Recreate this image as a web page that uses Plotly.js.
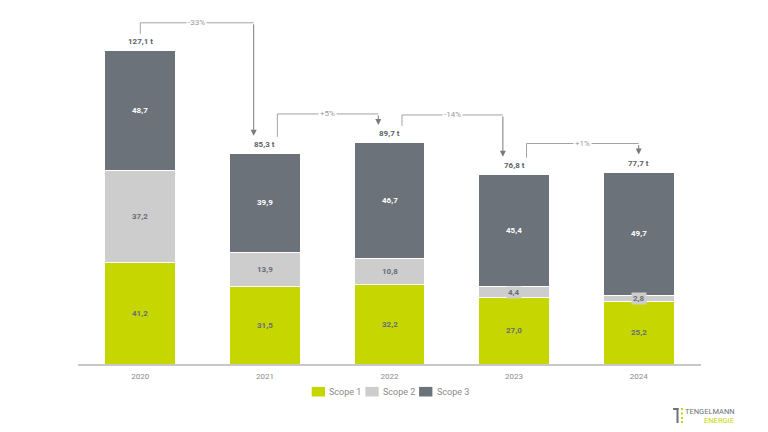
<!DOCTYPE html>
<html>
<head>
<meta charset="utf-8">
<script src="https://cdn.plot.ly/plotly-3.0.1.min.js"></script>
<style>html,body{margin:0;padding:0;background:#fff;}#chart{width:768px;height:432px;}</style>
</head>
<body>
<div id="chart"></div>
<script>
const years = ['2020', '2021', '2022', '2023', '2024'];
const scope1 = [41.2, 31.5, 32.2, 27.0, 25.2];
const scope2 = [37.2, 13.9, 10.8, 4.4, 2.8];
const scope3 = [48.7, 39.9, 46.7, 45.4, 49.7];
const totals = [127.1, 85.3, 89.7, 76.8, 77.7];
const changes = ['-33%', '+5%', '-14%', '+1%'];
const seriesNames = ['Scope 1', 'Scope 2', 'Scope 3'];

const C1 = '#c5d600', C2 = '#cdcdcd', C3 = '#6b7279';
const colors = [C1, C2, C3];
const LBL = '#676e75', LINE = '#a3a3a3';
const FONT = 'Roboto, "Liberation Sans", sans-serif';

const marginT = 19, marginB = 68, marginL = 78, marginR = 67, W = 768, H = 432, yMax = 140;
const k = (H - marginT - marginB) / yMax; // px per unit
const px = p => p / k;
const fmt = v => v.toFixed(1).replace('.', ',');
const paperX = p => (p - marginL) / (W - marginL - marginR);
const paperY = p => (H - marginB - p) / (H - marginT - marginB);

const mk = (name, vals, color) => ({
  type: 'bar', name: name, x: years, y: vals,
  marker: { color: color, line: { color: '#ffffff', width: 1 } },
  hoverinfo: 'skip'
});
const data = [mk(seriesNames[0], scope1, C1), mk(seriesNames[1], scope2, C2), mk(seriesNames[2], scope3, C3)];

const annotations = [];
const shapes = [];
years.forEach((yr, i) => {
  annotations.push({ x: i, y: scope1[i] / 2, text: '<b>' + fmt(scope1[i]) + '</b>', showarrow: false,
    font: { family: FONT, size: 8, color: LBL } });
  annotations.push({ x: i, y: scope1[i] + scope2[i] / 2, text: '<b>' + fmt(scope2[i]) + '</b>', showarrow: false,
    bgcolor: C2, borderpad: 1, font: { family: FONT, size: 8, color: LBL } });
  annotations.push({ x: i, y: scope1[i] + scope2[i] + scope3[i] / 2, text: '<b>' + fmt(scope3[i]) + '</b>', showarrow: false,
    font: { family: FONT, size: 8, color: '#ffffff' } });
  annotations.push({ x: i, y: totals[i], yanchor: 'bottom', yshift: 3, text: '<b>' + fmt(totals[i]) + ' t</b>', showarrow: false,
    font: { family: FONT, size: 8, color: '#5c636a' } });
});

changes.forEach((c, i) => {
  const xs = i + (i === 0 ? 0 : 0.1);
  const xe = (i + 1) + (i === changes.length - 1 ? 0 : -0.09);
  const ys = totals[i] + px(17);
  const ye = totals[i + 1] + px(18);
  const yt = Math.max(ys, ye) + px(11);
  shapes.push({ type: 'line', xref: 'x', yref: 'y', x0: xs, x1: xs, y0: ys, y1: yt, line: { color: LINE, width: 1 } });
  shapes.push({ type: 'line', xref: 'x', yref: 'y', x0: xs, x1: xe, y0: yt, y1: yt, line: { color: LINE, width: 1 } });
  annotations.push({ x: xe, y: ye, ax: xe, ay: yt, axref: 'x', ayref: 'y', text: '', showarrow: true,
    arrowhead: 2, arrowsize: 1.2, arrowwidth: 1, arrowcolor: '#7a7a7a', standoff: 0 });
  annotations.push({ x: (xs + xe) / 2, y: yt, text: c, showarrow: false, bgcolor: '#ffffff', borderpad: 1,
    font: { family: FONT, size: 8, color: '#9a9a9a' } });
});

// legend (drawn as swatches + text)
const legX0 = 311.7, legStep = 53.7, legY = 391.7;
seriesNames.forEach((n, j) => {
  const sx = legX0 + j * legStep;
  shapes.push({ type: 'rect', xref: 'paper', yref: 'paper', x0: paperX(sx), x1: paperX(sx + 13.3),
    y0: paperY(legY + 4.8), y1: paperY(legY - 4.8), fillcolor: colors[j], line: { width: 0 } });
  annotations.push({ xref: 'paper', yref: 'paper', x: paperX(sx + 15.5), y: paperY(legY), xanchor: 'left', yanchor: 'middle',
    text: n, showarrow: false, font: { family: FONT, size: 9, color: '#8a8a8a' } });
});

// logo
annotations.push({ xref: 'paper', yref: 'paper', x: paperX(737), y: paperY(411), xanchor: 'right', yanchor: 'middle',
  text: 'TENGELMANN', showarrow: false, font: { family: FONT, size: 7.5, color: '#6b7279' } });
annotations.push({ xref: 'paper', yref: 'paper', x: paperX(736), y: paperY(420), xanchor: 'right', yanchor: 'middle',
  text: 'ENERGIE', showarrow: false, font: { family: FONT, size: 7.5, color: '#c5d600' } });
shapes.push({ type: 'rect', xref: 'paper', yref: 'paper', x0: paperX(676.5), x1: paperX(678.5), y0: paperY(423), y1: paperY(408), fillcolor: '#6b7279', line: { width: 0 } });
shapes.push({ type: 'rect', xref: 'paper', yref: 'paper', x0: paperX(673), x1: paperX(678.5), y0: paperY(410), y1: paperY(408), fillcolor: '#6b7279', line: { width: 0 } });
[408, 412.5, 417, 421].forEach(yy => {
  shapes.push({ type: 'rect', xref: 'paper', yref: 'paper', x0: paperX(681), x1: paperX(683), y0: paperY(yy + 2), y1: paperY(yy), fillcolor: '#c5d600', line: { width: 0 } });
});

const layout = {
  width: W, height: H,
  margin: { l: marginL, r: marginR, t: marginT, b: marginB },
  paper_bgcolor: '#ffffff', plot_bgcolor: '#ffffff',
  barmode: 'stack', bargap: 0.433,
  font: { family: FONT, size: 8, color: '#8a8a8a' },
  xaxis: { type: 'category', showline: true, linecolor: '#c8c8c8', linewidth: 2, ticks: '', showgrid: false,
    ticklabelstandoff: 3, tickfont: { family: FONT, size: 8, color: '#8a8a8a' }, fixedrange: true },
  yaxis: { range: [0, yMax], visible: false, showgrid: false, zeroline: false, fixedrange: true },
  showlegend: false,
  annotations: annotations, shapes: shapes
};

Plotly.newPlot('chart', data, layout, { displayModeBar: false, staticPlot: true });
</script>
</body>
</html>
